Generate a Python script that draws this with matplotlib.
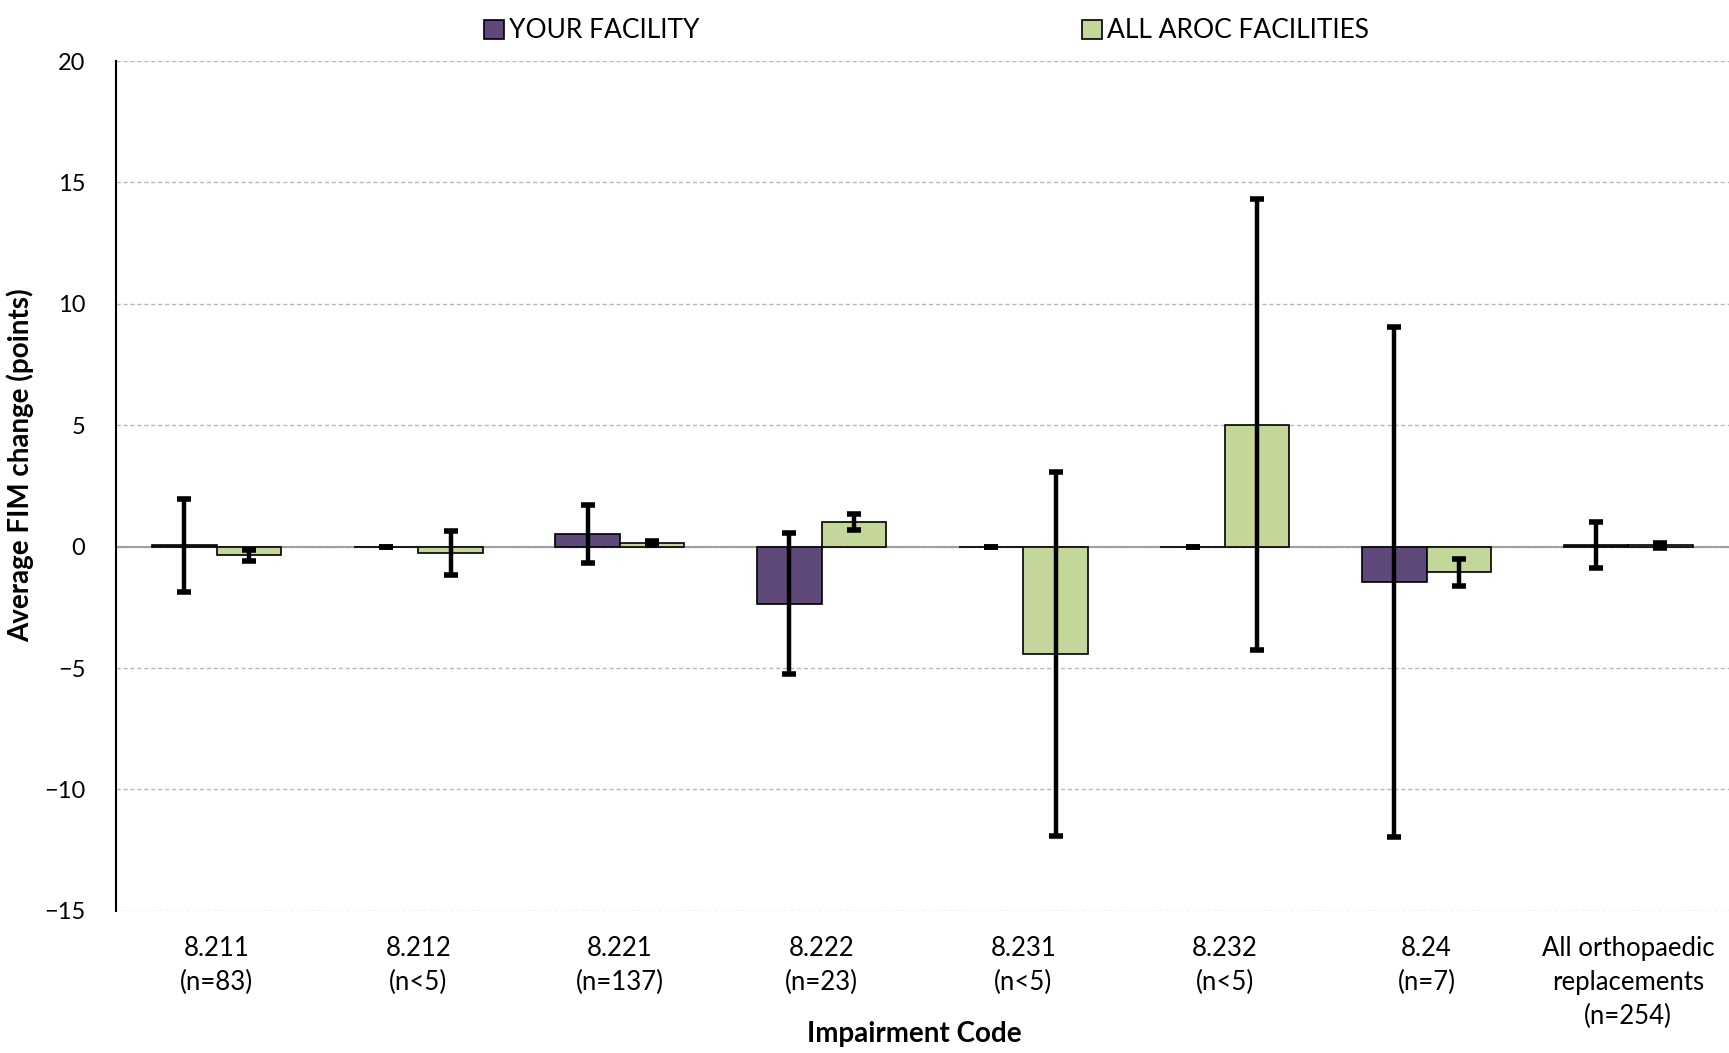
import matplotlib.pyplot as plt
import numpy as np

plt.rcParams['font.family'] = ['Lato', 'DejaVu Sans']

# Datos
categorias = ["8.211\n(n=83)", "8.212\n(n<5)", "8.221\n(n=137)", "8.222\n(n=23)",
              "8.231\n(n<5)", "8.232\n(n<5)", "8.24\n(n=7)",
              "All orthopaedic\nreplacements\n(n=254)"]
tu_centro = [0.05, 0.0, 0.52, -2.35, 0.0, 0.0, -1.47, 0.08]
tu_centro_err = [1.9, 0.0, 1.2, 2.9, 0.0, 0.0, 10.5, 0.95]
aroc = [-0.36, -0.27, 0.15, 1.03, -4.42, 5.03, -1.06, 0.05]
aroc_err = [0.22, 0.9, 0.1, 0.33, 7.5, 9.3, 0.55, 0.12]
yticks = [-15, -10, -5, 0, 5, 10, 15, 20]

morado = "#5f497a"
verde = "#c4d79b"

fig = plt.figure(figsize=(17.29, 10.53), dpi=100)
ax = fig.add_axes([0.067, 0.135, 0.933, 0.807])

x = np.arange(len(categorias))
ancho = 0.32
err_kw = dict(ecolor="black", elinewidth=3.2, capsize=5, capthick=4)

ax.bar(x - ancho / 2, tu_centro, ancho, yerr=tu_centro_err, color=morado,
       edgecolor="black", linewidth=1.2, label="YOUR FACILITY", error_kw=err_kw, zorder=3)
ax.bar(x + ancho / 2, aroc, ancho, yerr=aroc_err, color=verde,
       edgecolor="black", linewidth=1.2, label="ALL AROC FACILITIES", error_kw=err_kw, zorder=3)

ax.axhline(0, color="#a0a0a0", linewidth=1.5, zorder=2)
ax.set_xlim(-0.5, len(categorias) - 0.5)
ax.set_ylim(-15, 20)
ax.set_yticks(yticks)
ax.set_xticks(x)
ax.set_xticklabels(categorias, fontsize=18.5, linespacing=1.45)
ax.tick_params(axis="y", labelsize=17, length=0, pad=22)
ax.tick_params(axis="x", length=0, pad=18)
ax.yaxis.grid(True, linestyle=(0, (3, 2)), color="#b8b8b8", linewidth=1)
ax.set_axisbelow(True)
for lado in ["top", "right", "bottom"]:
    ax.spines[lado].set_visible(False)
ax.spines["left"].set_linewidth(1.5)

ax.set_ylabel("Average FIM change (points)", fontsize=20, fontweight="bold", va="center")
ax.yaxis.set_label_coords(-0.059, 0.524)
ax.set_xlabel("Impairment Code", fontsize=20, fontweight="bold", va="center")
ax.xaxis.set_label_coords(0.495, -0.145)

fig.legend(loc="upper center", bbox_to_anchor=(0.536, 1.005), ncol=2, frameon=False,
           fontsize=19, columnspacing=14.5, handlelength=0.75, handleheight=0.75,
           handletextpad=0.2)

fig.savefig("out.png", dpi=100)
